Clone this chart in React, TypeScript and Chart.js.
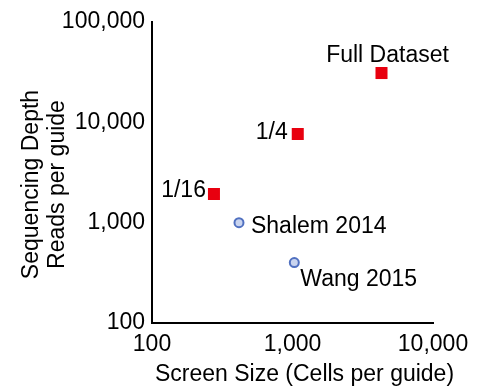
import React, { useEffect, useRef } from "react";
import { Chart, registerables } from "chart.js";

Chart.register(...registerables);

// Subsampled versions of the screen (red squares)
const subsampleLabels = ["Full Dataset", "1/4", "1/16"];
const subsampleCells = [4300, 1090, 276];
const subsampleReads = [31000, 7650, 1930];

// Published screens (blue circles)
const publishedLabels = ["Shalem 2014", "Wang 2015"];
const publishedCells = [416, 1030];
const publishedReads = [1000, 400];

// Axis ranges and titles
const xMin = 100;
const xMax = 10000;
const yMin = 100;
const yMax = 100000;
const xTitle = "Screen Size (Cells per guide)";
const yTitle = ["Sequencing Depth", "Reads per guide"];

const FONT = '"Liberation Sans", Arial, Helvetica, sans-serif';
const FONT_SIZE = 23;

// Where each point label sits relative to its marker
const subsamplePlacement = [
  { dx: 6, dy: -17, align: "center" },
  { dx: -10, dy: -1, align: "right" },
  { dx: -8, dy: -3, align: "right" },
];
const publishedPlacement = [
  { dx: 12, dy: 4, align: "left" },
  { dx: 6, dy: 17, align: "left" },
];

const decadeLabel = (value: number | string) => {
  const v = Number(value);
  const l = Math.log10(v);
  return Math.abs(l - Math.round(l)) < 1e-9 ? v.toLocaleString("en-US") : null;
};

const labelPlugin = {
  id: "pointLabels",
  afterDatasetsDraw(chart: any) {
    const ctx = chart.ctx;
    ctx.save();
    ctx.font = `${FONT_SIZE}px ${FONT}`;
    ctx.fillStyle = "#000";
    ctx.textBaseline = "middle";
    chart.data.datasets.forEach((ds: any, i: number) => {
      const meta = chart.getDatasetMeta(i);
      meta.data.forEach((el: any, j: number) => {
        const p = ds.placement[j];
        ctx.textAlign = p.align;
        ctx.fillText(ds.pointLabels[j], el.x + p.dx, el.y + p.dy);
      });
    });
    ctx.restore();
  },
};

const titlePlugin = {
  id: "axisTitles",
  afterDraw(chart: any) {
    const ctx = chart.ctx;
    const { left, right, top, bottom } = chart.chartArea;
    ctx.save();
    ctx.font = `${FONT_SIZE}px ${FONT}`;
    ctx.fillStyle = "#000";
    ctx.textBaseline = "alphabetic";
    ctx.textAlign = "center";
    // x title
    ctx.fillText(xTitle, (left + right) / 2 + 12, 381);
    // y title, two rotated lines
    ctx.translate(38, (top + bottom) / 2 + 12);
    ctx.rotate(-Math.PI / 2);
    yTitle.forEach((line, i) => ctx.fillText(line, 0, i * 26));
    ctx.restore();
  },
};

export default function App() {
  const canvasRef = useRef<HTMLCanvasElement | null>(null);

  useEffect(() => {
    if (!canvasRef.current) return;
    Chart.defaults.font.family = FONT;
    const chart = new Chart(canvasRef.current, {
      type: "scatter",
      data: {
        datasets: [
          {
            label: "Subsampled",
            data: subsampleCells.map((x, i) => ({ x, y: subsampleReads[i] })),
            pointStyle: "rect",
            pointRadius: 8.5,
            pointHoverRadius: 8.5,
            backgroundColor: "#e8000f",
            borderColor: "#e8000f",
            borderWidth: 0,
            pointLabels: subsampleLabels,
            placement: subsamplePlacement,
          } as any,
          {
            label: "Published",
            data: publishedCells.map((x, i) => ({ x, y: publishedReads[i] })),
            pointStyle: "circle",
            pointRadius: 4.5,
            pointHoverRadius: 4.5,
            backgroundColor: "#c9d4ef",
            borderColor: "#5070c0",
            borderWidth: 2,
            pointLabels: publishedLabels,
            placement: publishedPlacement,
          } as any,
        ],
      },
      options: {
        responsive: false,
        animation: false,
        layout: { padding: { top: 22, right: 47, left: 0, bottom: 0 } },
        plugins: {
          legend: { display: false },
          tooltip: { enabled: false },
          title: { display: false },
        },
        scales: {
          x: {
            type: "logarithmic",
            min: xMin,
            max: xMax,
            afterFit: (scale: any) => {
              scale.height = 67;
            },
            grid: { display: false, drawTicks: false },
            border: { display: true, color: "#000", width: 2 },
            ticks: {
              autoSkip: false,
              maxRotation: 0,
              padding: 8,
              color: "#000",
              font: { size: FONT_SIZE, family: FONT },
              callback: decadeLabel,
            },
          },
          y: {
            type: "logarithmic",
            min: yMin,
            max: yMax,
            afterFit: (scale: any) => {
              scale.width = 152;
            },
            grid: { display: false, drawTicks: false },
            border: { display: true, color: "#000", width: 2 },
            ticks: {
              autoSkip: false,
              padding: 7,
              color: "#000",
              font: { size: FONT_SIZE, family: FONT },
              callback: decadeLabel,
            },
          },
        },
      },
      plugins: [labelPlugin, titlePlugin],
    });
    return () => chart.destroy();
  }, []);

  return (
    <div style={{ position: "absolute", left: 0, top: 0, width: 480, height: 390, background: "#fff" }}>
      <canvas ref={canvasRef} width={480} height={390} />
    </div>
  );
}
